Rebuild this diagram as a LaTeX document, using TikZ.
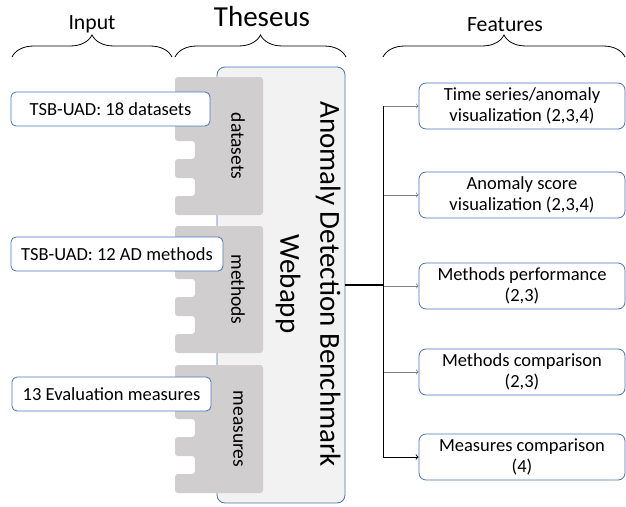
\documentclass[tikz,border=0pt]{standalone}
\usepackage{fontspec}
\setmainfont{Carlito}
\usetikzlibrary{decorations.pathreplacing}

\definecolor{boxblue}{HTML}{4A72B8}
\definecolor{piecegray}{HTML}{D0CECE}
\definecolor{appgray}{HTML}{F2F2F2}

\begin{document}
\begin{tikzpicture}[x=1pt, y=-1pt, every node/.style={font=\fontsize{18.5}{21.7}\selectfont}, align=center,
    inbox/.style={rectangle, draw=boxblue, line width=0.8pt, fill=white, rounded corners=5pt, minimum height=34pt, inner sep=2pt},
    featbox/.style={rectangle, draw=boxblue, line width=0.8pt, fill=white, rounded corners=7pt, minimum width=206pt, minimum height=46pt, inner sep=2pt},
    head/.style={anchor=base, font=\fontsize{21.7}{26}\selectfont},
    bracket/.style={decorate, decoration={brace, amplitude=22pt}, line width=0.8pt}]
            \useasboundingbox (0,0) rectangle (626,506);

            % Headers
            \node (input) [head] at (92,29) {Input};
            \node (theseus) [head, font=\fontsize{29}{35}\selectfont] at (262,27) {Theseus};
            \node (features) [head] at (505,31) {Features};
            \draw[bracket] (12,57) -- (172,57);
            \draw[bracket] (175,57) -- (346,57);
            \draw[bracket] (383,57) -- (625,57);

            % Webapp block
            \node (app) [rectangle, draw=boxblue, line width=0.8pt, fill=appgray, rounded corners=8pt, minimum width=128pt, minimum height=436pt] at (281,285) {};

            % Puzzle pieces
            \foreach \ytop/\ybot/\lbl in {77/215/datasets, 226/353/methods, 365/493/measures} {
                \fill[piecegray, rounded corners=3pt] (263,\ytop) -- (263,\ybot) -- (175,\ybot) -- (175,\ybot-19) -- (195,\ybot-19) -- (195,\ybot-37) -- (175,\ybot-37) -- (175,\ybot-56) -- (195,\ybot-56) -- (195,\ybot-74) -- (175,\ybot-74) -- (175,\ytop) -- cycle;
                \node (\lbl) [rotate=-90, font=\fontsize{19.5}{22}\selectfont] at (238,{(\ytop+\ybot)/2}) {\lbl};
            }
            \node (title) [rotate=-90, font=\fontsize{29}{40}\selectfont] at (308,284) {Anomaly Detection Benchmark\\Webapp};

            % Inputs
            \node (in1) [inbox, minimum width=199pt] at (110.5,109) {TSB-UAD: 18 datasets};
            \node (in2) [inbox, minimum width=212pt] at (117,254) {TSB-UAD: 12 AD methods};
            \node (in3) [inbox, minimum width=199pt] at (111.5,394) {13 Evaluation measures};

            % Features
            \node (f1) [featbox] at (522,106) {Time series/anomaly\\visualization (2,3,4)};
            \node (f2) [featbox] at (522,195) {Anomaly score\\visualization (2,3,4)};
            \node (f3) [featbox] at (522,286) {Methods performance\\(2,3)};
            \node (f4) [featbox] at (522,372) {Methods comparison\\(2,3)};
            \node (f5) [featbox] at (522,457) {Measures comparison\\(4)};

            % Draw arrows
            \coordinate (trunk) at (383,285);
            \foreach \f in {f1,f2,f3,f4}
                \draw[->, gray, line width=0.8pt] (trunk |- \f.west) -- (\f.west);
            \draw[->, line width=1pt] (trunk |- f1.west) -- (trunk |- f5.west) -- (f5.west);
            \draw[line width=1.8pt] (app.east) -- (trunk);
        \end{tikzpicture}
\end{document}
